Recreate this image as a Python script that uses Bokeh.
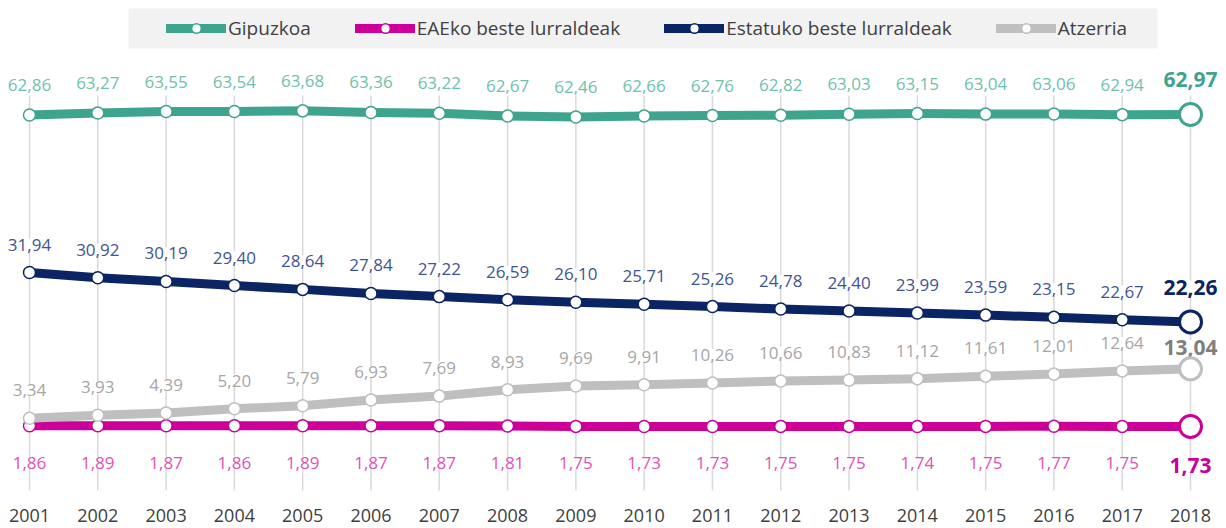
from bokeh.plotting import figure
from bokeh.models import (ColumnDataSource, LabelSet, Legend, LegendItem, Range1d,
                          FixedTicker, BoxAnnotation)
from bokeh.core.properties import value
from bokeh.embed import file_html
from bokeh.resources import INLINE

years = list(range(2001, 2019))
gipuzkoa = [62.86, 63.27, 63.55, 63.54, 63.68, 63.36, 63.22, 62.67, 62.46, 62.66,
            62.76, 62.82, 63.03, 63.15, 63.04, 63.06, 62.94, 62.97]
eaeko = [1.86, 1.89, 1.87, 1.86, 1.89, 1.87, 1.87, 1.81, 1.75, 1.73,
         1.73, 1.75, 1.75, 1.74, 1.75, 1.77, 1.75, 1.73]
estatuko = [31.94, 30.92, 30.19, 29.40, 28.64, 27.84, 27.22, 26.59, 26.10, 25.71,
            25.26, 24.78, 24.40, 23.99, 23.59, 23.15, 22.67, 22.26]
atzerria = [3.34, 3.93, 4.39, 5.20, 5.79, 6.93, 7.69, 8.93, 9.69, 9.91,
            10.26, 10.66, 10.83, 11.12, 11.61, 12.01, 12.64, 13.04]
series_names = ["Gipuzkoa", "EAEko beste lurraldeak", "Estatuko beste lurraldeak", "Atzerria"]

FONT = "Open Sans"

# style per series: line colour, label colour, last label colour, label offset, last label offset
styles = [
    ("#3fa48e", "#6fc1aa", "#3fa48e", 30, 35),
    ("#cc0099", "#e052b4", "#cc0099", -37, -39),
    ("#0b2463", "#3f5590", "#0b2463", 28, 34),
    ("#bfbfbf", "#a6a6a6", "#7f7f7f", 28, 21),
]

FRAME_H = 494
p = figure(frame_width=1226, frame_height=FRAME_H, output_backend="svg",
           toolbar_location=None, y_axis_location=None, min_border=0,
           min_border_bottom=34,
           x_range=Range1d(2000.5754, 2018.527), y_range=Range1d(-11.62, 85.34))
p.outline_line_color = None
p.xgrid.grid_line_color = None
p.ygrid.grid_line_color = None
p.background_fill_color = "white"

# vertical guide lines
p.segment(x0=years, x1=years, y0=-10.83, y1=66.69, line_color="#d9d9d9",
          line_width=1.5, level="image")

# legend background box
box = BoxAnnotation(left=2002.45, right=2017.517, bottom=75.92, top=83.77,
                    fill_color="#f2f2f2", fill_alpha=1.0, line_color=None,
                    level="underlay")
p.add_layout(box)

legend_items = []
for name, vals, (col, lcol, lastcol, off, lastoff) in zip(
        series_names, [gipuzkoa, eaeko, estatuko, atzerria], styles):
    texts = [f"{v:.2f}".replace(".", ",") for v in vals]
    src = ColumnDataSource(dict(x=years[:-1], y=vals[:-1], t=texts[:-1]))
    last = ColumnDataSource(dict(x=years[-1:], y=vals[-1:], t=texts[-1:]))
    allsrc = ColumnDataSource(dict(x=years, y=vals))

    ln = p.line("x", "y", source=allsrc, line_color=col, line_width=9,
                line_join="round", line_cap="round")
    sc = p.scatter("x", "y", source=src, size=12, fill_color="white",
                   line_color=col, line_width=1.5)
    p.scatter("x", "y", source=last, size=22, fill_color="white",
              line_color=col, line_width=3)
    legend_items.append(LegendItem(label=name, renderers=[ln, sc]))

    ls = LabelSet(x="x", y="y", text="t", source=src, y_offset=off,
                  text_align="center", text_baseline="middle",
                  text_font=value(FONT), text_font_size=value("17px"),
                  text_color=lcol, background_fill_color="white", level="underlay")
    p.add_layout(ls)
    ll = LabelSet(x="x", y="y", text="t", source=last, y_offset=lastoff,
                  text_align="center", text_baseline="middle",
                  text_font=value(FONT), text_font_size=value("21px"),
                  text_font_style="bold", text_color=lastcol,
                  background_fill_color="white", level="underlay")
    p.add_layout(ll)

legend = Legend(items=legend_items, orientation="horizontal",
                location=(166, FRAME_H - 41), padding=8, margin=0,
                spacing=44, glyph_width=60, glyph_height=24, label_standoff=2,
                label_text_font=FONT, label_text_font_size="19px",
                label_text_color="#404040", background_fill_alpha=0,
                border_line_color=None)
p.add_layout(legend)

p.xaxis.ticker = FixedTicker(ticks=years)
p.xaxis.axis_line_color = None
p.xaxis.major_tick_line_color = None
p.xaxis.minor_tick_line_color = None
p.xaxis.major_label_standoff = 8
p.xaxis.major_label_text_font = FONT
p.xaxis.major_label_text_font_size = "18px"
p.xaxis.major_label_text_color = "#404040"

open("out.html", "w").write(file_html(p, INLINE))
